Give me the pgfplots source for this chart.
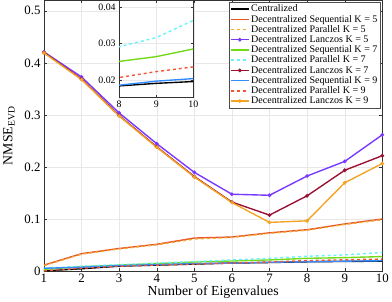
\documentclass[border=0pt]{standalone}
\usepackage{fontspec}
\setmainfont{Liberation Serif}
\usepackage{pgfplots}
\pgfplotsset{compat=1.18}
\definecolor{cseqA}{rgb}{0.90,0.33,0.17}
\definecolor{cparA}{rgb}{0.96,0.66,0.16}
\definecolor{clanA}{rgb}{0.47,0.22,1.00}
\definecolor{cseqB}{rgb}{0.45,0.85,0.10}
\definecolor{cparB}{rgb}{0.40,0.95,1.00}
\definecolor{clanB}{rgb}{0.60,0.07,0.20}
\definecolor{cseqC}{rgb}{0.20,0.55,1.00}
\definecolor{cparC}{rgb}{0.95,0.33,0.20}
\definecolor{clanC}{rgb}{0.96,0.64,0.14}
\pgfplotstableread{
x cen seqA parA lanA seqB parB lanB seqC parC lanC
1 0.001 0.012 0.011 0.421 0.004 0.006 0.420 0.006 0.001 0.419
2 0.005 0.034 0.033 0.373 0.009 0.010 0.369 0.008 0.006 0.368
3 0.010 0.044 0.043 0.304 0.012 0.013 0.299 0.011 0.010 0.298
4 0.012 0.052 0.051 0.245 0.015 0.016 0.239 0.013 0.012 0.238
5 0.014 0.064 0.062 0.190 0.018 0.019 0.182 0.015 0.014 0.181
6 0.016 0.066 0.065 0.148 0.020 0.022 0.133 0.016 0.016 0.132
7 0.017 0.074 0.073 0.146 0.022 0.025 0.108 0.0175 0.018 0.094
8 0.0184 0.080 0.079 0.183 0.0251 0.0291 0.145 0.0186 0.0207 0.097
9 0.0191 0.091 0.090 0.211 0.0264 0.0316 0.194 0.0197 0.0223 0.170
10 0.0196 0.1005 0.099 0.262 0.0285 0.0363 0.222 0.0204 0.0236 0.207
}\data
\begin{document}
\begin{tikzpicture}
\tikzset{
  ln/.style={line width=1.4pt},
  lanmark/.style={line width=1.4pt, mark=*, mark size=1.1pt},
}
\begin{axis}[
  name=main,
  scale only axis, width=342bp, height=274bp,
  xmin=1, xmax=10, ymin=0, ymax=0.52,
  xtick={1,...,10}, ytick={0,0.1,0.2,0.3,0.4,0.5},
  yticklabel style={/pgf/number format/fixed},
  xticklabel style={yshift=1pt},
  /pgf/number format/assume math mode=true,
  grid=major, grid style={gray!18, line width=0.4pt},
  tick align=inside, major tick length=3pt,
  axis line style={black!80, line width=0.6pt},
  tick style={black!80},
  tick label style={font=\fontsize{13}{13}\selectfont},
  label style={font=\fontsize{14}{15}\selectfont},
  xlabel={Number of Eigenvalues}, ylabel={NMSE\textsubscript{EVD}},
  xlabel style={yshift=4pt}, ylabel style={yshift=3pt},
  legend cell align=left,
  legend style={at={(0.995,0.995)}, anchor=north east, font=\fontsize{10.2}{11}\selectfont,
    draw=black!70, inner sep=1pt, row sep=-2.2pt, fill=white},
  legend image code/.code={\draw[#1] (0cm,0cm) -- (0.62cm,0cm); \draw[#1, only marks] plot coordinates {(0.31cm,0cm)};},
]
\addplot[black, ln, no marks] table[x=x,y=cen]{\data};
\addlegendentry{Centralized}
\addplot[cseqA, ln, no marks] table[x=x,y=seqA]{\data};
\addlegendentry{Decentralized Sequential K = 5}
\addplot[cparA, dashed, ln, no marks] table[x=x,y=parA]{\data};
\addlegendentry{Decentralized Parallel K = 5}
\addplot[clanA, lanmark] table[x=x,y=lanA]{\data};
\addlegendentry{Decentralized Lanczos K = 5}
\addplot[cseqB, ln, no marks] table[x=x,y=seqB]{\data};
\addlegendentry{Decentralized Sequential K = 7}
\addplot[cparB, dashed, ln, no marks] table[x=x,y=parB]{\data};
\addlegendentry{Decentralized Parallel K = 7}
\addplot[clanB, lanmark] table[x=x,y=lanB]{\data};
\addlegendentry{Decentralized Lanczos K = 7}
\addplot[cseqC, ln, no marks] table[x=x,y=seqC]{\data};
\addlegendentry{Decentralized Sequential K = 9}
\addplot[cparC, dashed, ln, no marks] table[x=x,y=parC]{\data};
\addlegendentry{Decentralized Parallel K = 9}
\addplot[clanC, lanmark] table[x=x,y=lanC]{\data};
\addlegendentry{Decentralized Lanczos K = 9}
\end{axis}
\begin{axis}[
  at={(76bp,176bp)}, anchor=south west,
  scale only axis, width=75bp, height=98bp,
  xmin=8, xmax=10, ymin=0.0153, ymax=0.0418,
  xtick={8,9,10}, ytick={0.02,0.03,0.04},
  scaled y ticks=false,
  yticklabel style={/pgf/number format/fixed, /pgf/number format/fixed zerofill, /pgf/number format/precision=2},
  /pgf/number format/assume math mode=true,
  axis background/.style={fill=white},
  grid=major, grid style={gray!18, line width=0.4pt},
  tick align=inside, major tick length=2.5pt,
  axis line style={black!80, line width=0.6pt},
  tick style={black!80},
  tick label style={font=\fontsize{10}{10}\selectfont},
  clip=true,
]
\addplot[black, ln, no marks] table[x=x,y=cen]{\data};
\addplot[cseqA, ln, no marks] table[x=x,y=seqA]{\data};
\addplot[cparA, dashed, ln, no marks] table[x=x,y=parA]{\data};
\addplot[cseqB, ln, no marks] table[x=x,y=seqB]{\data};
\addplot[cparB, dashed, ln, no marks] table[x=x,y=parB]{\data};
\addplot[cseqC, ln, no marks] table[x=x,y=seqC]{\data};
\addplot[cparC, dashed, ln, no marks] table[x=x,y=parC]{\data};
\end{axis}
\end{tikzpicture}
\end{document}
